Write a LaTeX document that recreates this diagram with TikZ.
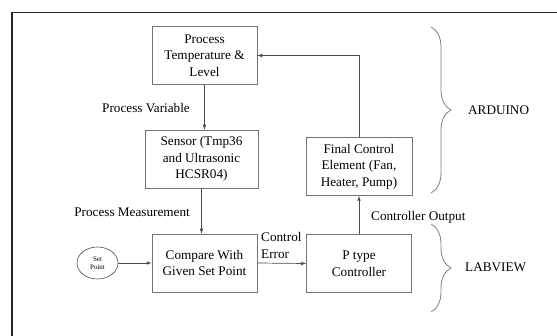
\documentclass[tikz,border=0pt]{standalone}
\usepackage{fontspec}
\setmainfont{Liberation Serif}
\usetikzlibrary{shapes,arrows}
\usetikzlibrary{calc,positioning}
\usetikzlibrary{decorations.pathreplacing}

\begin{document}
\begin{tikzpicture}[x=1pt,y=-1pt,
	blk/.style={draw=black!55, line width=0.7pt, minimum width=105pt, minimum height=58pt, align=center, inner sep=2pt, font=\fontsize{13.2}{16.5}\selectfont},
	lbl/.style={font=\fontsize{13.2}{16}\selectfont, inner sep=1pt},
	flow/.style={draw=black!70, line width=0.7pt, -latex},
	brc/.style={draw=black!50, line width=0.8pt, decorate, decoration={brace, amplitude=20pt}}]
	\useasboundingbox (0,0) rectangle (557,336);
	
	% outer frame (cut at right and bottom)
	\draw[line width=1.4pt, black!85] (12,336) -- (12,12.5) -- (557,12.5);
	
	% blocks of the loop
	\node[blk] (proc) at (204.5,55.5) {Process\\Temperature \&\\Level};
	\node[blk, minimum width=113pt] (sensor) at (201.5,159) {Sensor (Tmp36\\and Ultrasonic\\HCSR04)};
	\node[blk] (cmp) at (204.5,263) {Compare With\\Given Set Point};
	\node[blk] (ctrl) at (359,263.5) {P type\\Controller};
	\node[blk, minimum width=106pt] (fce) at (359,166.5) {Final Control\\Element (Fan,\\Heater, Pump)};
	
	% set point
	\node[draw=black!70, line width=0.6pt, ellipse, minimum width=41pt, minimum height=32pt, inner sep=0pt, align=center, font=\fontsize{7}{8.5}\selectfont] (sp) at (97.5,263) {Set\\Point};
	
	% connectors
	\draw[flow] (proc.south) -- (proc.south |- sensor.north);
	\draw[flow] (sensor.south) -- (sensor.south |- cmp.north);
	\draw[flow] (sp.east) -- (cmp.west);
	\draw[flow] (cmp.east) -- (ctrl.west);
	\draw[flow] (ctrl.north) -- (fce.south);
	\draw[flow] (fce.north) |- (proc.east);
	
	% signal names
	\node[lbl, anchor=east] (pv) at (191,108) {Process Variable};
	\node[lbl, anchor=east] (pm) at (191,212) {Process Measurement};
	\node[lbl, align=left, anchor=west, font=\fontsize{13.2}{17}\selectfont] (ce) at (260,245.5) {Control\\Error};
	\node[lbl, anchor=west] (co) at (370,217) {Controller Output};
	
	% braces
	\coordinate (A1) at (431,27);
	\coordinate (A2) at (431,193);
	\coordinate (L1) at (431,224);
	\coordinate (L2) at (431,312);
	\draw[brc] (A1) -- (A2);
	\draw[brc] (L1) -- (L2);
	\node[lbl, anchor=west] (ard) at (467,110) {ARDUINO};
	\node[lbl, anchor=west] (lab) at (464,267) {LABVIEW};
\end{tikzpicture}
\end{document}
